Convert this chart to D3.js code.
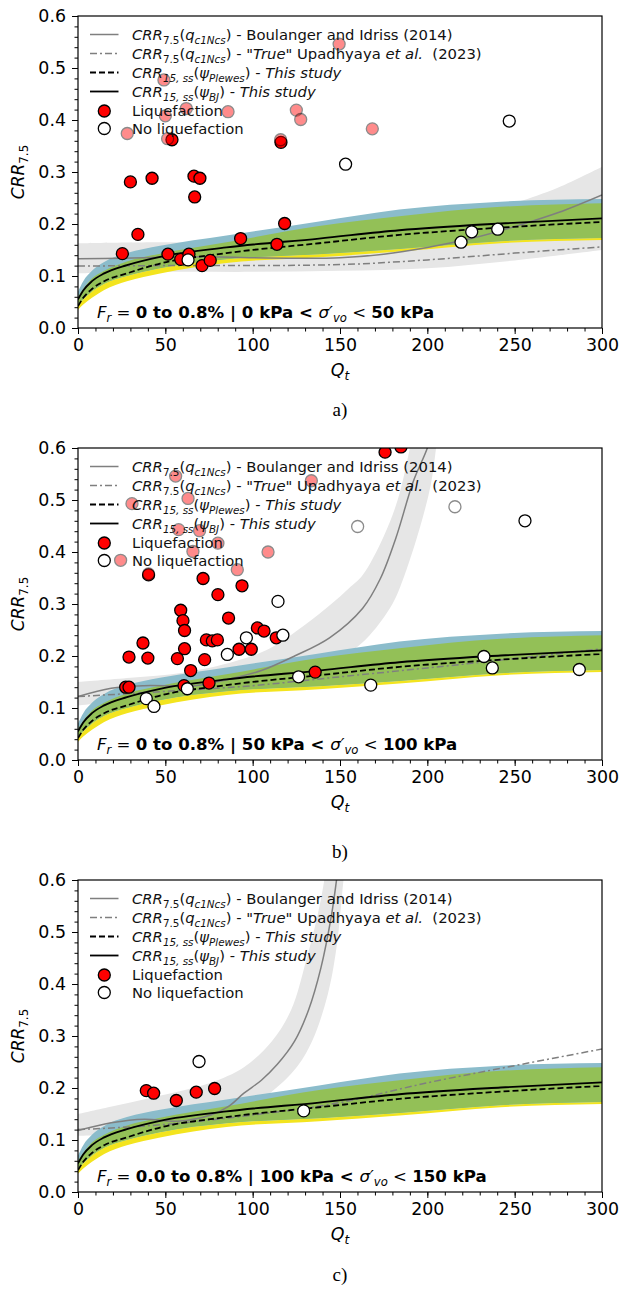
<!DOCTYPE html>
<html lang="en">
<head>
<meta charset="UTF-8">
<title>CRR vs Qt</title>
<script src="https://cdn.jsdelivr.net/npm/d3@7"></script>
<style>
  body { margin: 0; background: #fff; }
  text { font-family: "DejaVu Sans", sans-serif; white-space: pre; }
</style>
</head>
<body>
<script>
// ---- axes ----
const qTicks = [0, 50, 100, 150, 200, 250, 300]
const crrTicks = [0, 0.1, 0.2, 0.3, 0.4, 0.5, 0.6]

// ---- curves of this study (same in every panel) ----
const qGrid       = [0, 3, 8, 15, 28, 47, 85, 138, 184, 242, 300]
const crrBJ       = [0.055, 0.072, 0.09, 0.105, 0.121, 0.137, 0.155, 0.172, 0.188, 0.201, 0.211]
const crrPlewes   = [0.042, 0.058, 0.075, 0.09, 0.105, 0.124, 0.144, 0.163, 0.179, 0.193, 0.204]
const blueUpper   = [0.07, 0.09, 0.11, 0.127, 0.144, 0.158, 0.178, 0.205, 0.228, 0.243, 0.248]
const greenUpper  = [0.06, 0.075, 0.095, 0.11, 0.128, 0.143, 0.165, 0.196, 0.215, 0.233, 0.24]
const greenLower  = [0.045, 0.055, 0.07, 0.085, 0.1, 0.115, 0.132, 0.142, 0.152, 0.167, 0.173]
const yellowLower = [0.035, 0.045, 0.058, 0.073, 0.09, 0.105, 0.125, 0.136, 0.147, 0.163, 0.169]

// ---- panel a) 0 - 50 kPa ----
const biA = [[0, 0.133], [25, 0.134], [50, 0.136], [75, 0.137], [100, 0.135], [125, 0.134], [150, 0.135],
  [175, 0.142], [200, 0.155], [225, 0.172], [250, 0.195], [275, 0.222], [300, 0.256]]
const trueA = [[0, 0.119], [50, 0.12], [100, 0.12], [150, 0.122], [200, 0.131], [250, 0.144], [300, 0.156]]
const bandUpA = [[0, 0.163], [50, 0.165], [100, 0.163], [150, 0.168], [200, 0.19], [250, 0.24], [275, 0.27], [300, 0.31]]
const bandLoA = [[0, 0.105], [50, 0.108], [100, 0.108], [150, 0.11], [200, 0.115], [250, 0.13], [300, 0.15]]
const liqA = [[25.4, 0.143], [30, 0.281], [42.4, 0.288], [34.3, 0.18], [66.4, 0.292], [69.8, 0.288], [66.8, 0.252],
  [51.5, 0.142], [58.8, 0.132], [63.5, 0.142], [71, 0.12], [75.7, 0.13], [93.1, 0.172], [113.9, 0.161],
  [118.3, 0.201], [53.8, 0.362], [116.2, 0.357]]
const nonLiqA = [[63, 0.131], [153.2, 0.315], [246.9, 0.398], [219.3, 0.165], [225.4, 0.185], [240.3, 0.19]]
const fadedLiqA = [[28.2, 0.374], [49.2, 0.477], [50, 0.408], [62, 0.422], [85.9, 0.416], [51.3, 0.364],
  [116, 0.362], [125, 0.419], [127.5, 0.401], [149.5, 0.546], [168.5, 0.383]]
const fadedNonLiqA = []

// ---- panel b) 50 - 100 kPa ----
const biB = [[0, 0.122], [19, 0.138], [38, 0.143], [67, 0.143], [86, 0.155], [105, 0.172], [124, 0.2], [144, 0.235],
  [163, 0.292], [173, 0.348], [182, 0.427], [192, 0.536], [200, 0.6], [205, 0.66]]
const trueB = [[0, 0.122], [50, 0.132], [100, 0.143], [150, 0.16], [200, 0.177], [250, 0.195], [300, 0.214]]
const bandUpB = [[0, 0.15], [30, 0.158], [60, 0.168], [90, 0.19], [110, 0.215], [130, 0.26], [145, 0.3], [155, 0.33],
  [163, 0.356], [175, 0.43], [183, 0.5], [190, 0.6], [193, 0.66]]
const bandLoB = [[0, 0.105], [40, 0.118], [80, 0.128], [110, 0.14], [140, 0.175], [155, 0.205], [167, 0.24],
  [180, 0.3], [187, 0.356], [196, 0.45], [202, 0.53], [205, 0.6], [207, 0.66]]
const liqB = [[27.3, 0.14], [29.2, 0.14], [29.2, 0.198], [37.2, 0.225], [40, 0.196], [40.4, 0.356], [56.9, 0.195],
  [58.8, 0.288], [60.1, 0.268], [61, 0.249], [61, 0.214], [60.7, 0.143], [64.5, 0.172], [71.6, 0.349], [72.5, 0.193],
  [75, 0.148], [73.5, 0.231], [76.9, 0.229], [79.8, 0.231], [80.1, 0.318], [86.2, 0.273], [93.9, 0.335],
  [92.2, 0.213], [99.2, 0.213], [102.7, 0.254], [106.5, 0.248], [113.5, 0.235], [135.8, 0.169],
  [175.8, 0.592], [184.9, 0.602]]
const nonLiqB = [[39.1, 0.118], [43.5, 0.103], [62.6, 0.137], [85.5, 0.203], [96.4, 0.235], [114.5, 0.305],
  [117.3, 0.24], [126.3, 0.16], [167.6, 0.144], [232.4, 0.199], [237.2, 0.177], [287, 0.174], [255.9, 0.46]]
const fadedLiqB = [[55.9, 0.546], [30.9, 0.493], [63, 0.503], [57.6, 0.443], [69.6, 0.441], [80.1, 0.417],
  [65.8, 0.401], [108.8, 0.4], [24.4, 0.384], [40.4, 0.358], [91.2, 0.366], [133.6, 0.537]]
const fadedNonLiqB = [[160.1, 0.449], [215.8, 0.487]]

// ---- panel c) 100 - 150 kPa ----
const biC = [[0, 0.118], [19, 0.133], [38, 0.14], [57, 0.136], [76, 0.148], [86, 0.164], [95, 0.19], [105, 0.215],
  [114, 0.245], [124, 0.29], [132, 0.35], [139, 0.43], [145, 0.53], [148, 0.6], [150, 0.66]]
const trueC = [[0, 0.12], [50, 0.13], [100, 0.148], [150, 0.172], [200, 0.21], [250, 0.243], [300, 0.275]]
const bandUpC = [[0, 0.15], [20, 0.165], [40, 0.18], [60, 0.195], [76, 0.21], [95, 0.24], [111, 0.29], [122, 0.35],
  [131, 0.45], [137, 0.53], [141, 0.6], [143, 0.66]]
const bandLoC = [[0, 0.108], [30, 0.112], [57, 0.119], [86, 0.138], [105, 0.177], [124, 0.235], [134, 0.29],
  [143, 0.38], [148, 0.47], [152, 0.6], [154, 0.66]]
const liqC = [[39.1, 0.195], [43.3, 0.19], [56.3, 0.176], [67.7, 0.192], [78.2, 0.199]]
const nonLiqC = [[69.3, 0.251], [129.2, 0.156]]
const fadedLiqC = []
const fadedNonLiqC = []

// panel texts
const captions = ['a)', 'b)', 'c)']
const rangeFr = ['0 to 0.8% | ', '0 to 0.8% | ', '0.0 to 0.8% | ']
const stressLow = ['0 kPa < ', '50 kPa < ', '100 kPa < ']
const stressHigh = ['50 kPa', '100 kPa', '150 kPa']

// ---- layout ----
const W = 620, H = 1289
const left = 78, right = 602, plotH = 312
const tops = [16, 448, 880]
const captionY = [416, 858, 1281]

const svg = d3.select('body').append('svg')
  .attr('width', W).attr('height', H)
  .style('background', '#fff')

const x = d3.scaleLinear().domain([0, 300]).range([left, right])

// mathtext-like label made of tspans
function rich(t, parts, size) {
  let shifted = 0
  parts.forEach(p => {
    const s = t.append('tspan').text(p.t)
    const want = p.sub ? size * 0.25 : 0
    if (want !== shifted) { s.attr('dy', want - shifted); shifted = want }
    if (p.sub) s.attr('font-size', size * 0.7)
    if (p.i) s.attr('font-style', 'italic')
    if (p.b) s.attr('font-weight', 'bold')
  })
}

const legendItems = [
  { kind: 'line', dash: null, color: '#7f7f7f', w: 1.5,
    parts: [{ t: 'CRR', i: 1 }, { t: '7.5', sub: 1 }, { t: '(' }, { t: 'q', i: 1 }, { t: 'c1Ncs', sub: 1, i: 1 }, { t: ') - Boulanger and Idriss (2014)' }] },
  { kind: 'line', dash: '7,3,2,3', color: '#7f7f7f', w: 1.5,
    parts: [{ t: 'CRR', i: 1 }, { t: '7.5', sub: 1 }, { t: '(' }, { t: 'q', i: 1 }, { t: 'c1Ncs', sub: 1, i: 1 }, { t: ') - "' }, { t: 'True', i: 1 }, { t: '" Upadhyaya ' }, { t: 'et al.', i: 1 }, { t: '  (2023)' }] },
  { kind: 'line', dash: '6,3', color: '#000', w: 1.8,
    parts: [{ t: 'CRR', i: 1 }, { t: '15, ss', sub: 1, i: 1 }, { t: '(' }, { t: 'ψ', i: 1 }, { t: 'Plewes', sub: 1, i: 1 }, { t: ') - ' }, { t: 'This study', i: 1 }] },
  { kind: 'line', dash: null, color: '#000', w: 1.8,
    parts: [{ t: 'CRR', i: 1 }, { t: '15, ss', sub: 1, i: 1 }, { t: '(' }, { t: 'ψ', i: 1 }, { t: 'BJ', sub: 1, i: 1 }, { t: ') - ' }, { t: 'This study', i: 1 }] },
  { kind: 'dot', fill: '#f00', parts: [{ t: 'Liquefaction' }] },
  { kind: 'dot', fill: '#fff', parts: [{ t: 'No liquefaction' }] }
]
const legendRows = [18.5, 37.5, 56.5, 75.5, 95, 112.5]

const panels = [
  { bi: biA, tr: trueA, up: bandUpA, lo: bandLoA, liq: liqA, non: nonLiqA, fl: fadedLiqA, fn: fadedNonLiqA },
  { bi: biB, tr: trueB, up: bandUpB, lo: bandLoB, liq: liqB, non: nonLiqB, fl: fadedLiqB, fn: fadedNonLiqB },
  { bi: biC, tr: trueC, up: bandUpC, lo: bandLoC, liq: liqC, non: nonLiqC, fl: fadedLiqC, fn: fadedNonLiqC }
]

panels.forEach((p, k) => {
  const T = tops[k]
  const y = d3.scaleLinear().domain([0, 0.6]).range([T + plotH, T])
  const g = svg.append('g')

  const clipId = 'clip' + k
  svg.append('clipPath').attr('id', clipId)
    .append('rect').attr('x', left).attr('y', T).attr('width', right - left).attr('height', plotH)
  const plot = g.append('g').attr('clip-path', `url(#${clipId})`)

  // grey band round Boulanger & Idriss
  const bandLine = d3.line().x(d => x(d[0])).y(d => y(d[1])).curve(d3.curveCatmullRom)
  const dUp = bandLine(p.up)
  const dLo = bandLine(p.lo.slice().reverse())
  plot.append('path')
    .attr('d', dUp + 'L' + dLo.slice(1) + 'Z')
    .attr('fill', '#e6e6e6')

  // bands of this study
  const band = (lo, hi) => d3.area()
    .x((d, i) => x(qGrid[i])).y0((d, i) => y(lo[i])).y1((d, i) => y(hi[i]))
    .curve(d3.curveMonotoneX)
  plot.append('path').datum(qGrid).attr('d', band(greenLower, blueUpper)).attr('fill', '#8bbccb')
  plot.append('path').datum(qGrid).attr('d', band(yellowLower, greenLower)).attr('fill', '#f3e41e')
  plot.append('path').datum(qGrid).attr('d', band(greenLower, greenUpper)).attr('fill', '#93c057')

  const curve = d3.line().x(d => x(d[0])).y(d => y(d[1])).curve(d3.curveMonotoneX)
  const smooth = d3.line().x(d => x(d[0])).y(d => y(d[1])).curve(d3.curveCatmullRom.alpha(0.5))
  plot.append('path').datum(p.bi).attr('d', smooth)
    .attr('fill', 'none').attr('stroke', '#7f7f7f').attr('stroke-width', 1.5)
  plot.append('path').datum(p.tr).attr('d', curve)
    .attr('fill', 'none').attr('stroke', '#7f7f7f').attr('stroke-width', 1.5)
    .attr('stroke-dasharray', '7,3,2,3')

  const grid = d => qGrid.map((q, i) => [q, d[i]])
  plot.append('path').datum(grid(crrPlewes)).attr('d', curve)
    .attr('fill', 'none').attr('stroke', '#000').attr('stroke-width', 1.8).attr('stroke-dasharray', '6,3')
  plot.append('path').datum(grid(crrBJ)).attr('d', curve)
    .attr('fill', 'none').attr('stroke', '#000').attr('stroke-width', 1.8)

  // points
  const dots = (data, fill, op) => plot.append('g').selectAll('circle').data(data).join('circle')
    .attr('cx', d => x(d[0])).attr('cy', d => y(d[1])).attr('r', 6)
    .attr('fill', fill).attr('stroke', '#000').attr('stroke-width', 1.3).attr('opacity', op)
  dots(p.liq, '#f00', 1)
  dots(p.non, '#fff', 1)
  dots(p.fl, '#f00', 0.45)
  dots(p.fn, '#fff', 0.45)

  // axes
  const yAxis = d3.axisLeft(y).tickValues(crrTicks).tickFormat(d3.format('.1f')).tickSize(6).tickPadding(6)
  const yMinor = d3.axisLeft(y).tickValues(d3.range(0, 61, 2).map(v => v / 100)).tickFormat('').tickSize(3.5)
  const xAxis = d3.axisBottom(x).tickValues(qTicks).tickSize(6).tickPadding(5)
  const xMinor = d3.axisBottom(x).tickValues(d3.range(0, 301, 10)).tickFormat('').tickSize(3.5)

  const ay = g.append('g').attr('transform', `translate(${left},0)`).call(yAxis)
  g.append('g').attr('transform', `translate(${left},0)`).call(yMinor)
  const ax = g.append('g').attr('transform', `translate(0,${T + plotH})`).call(xAxis)
  g.append('g').attr('transform', `translate(0,${T + plotH})`).call(xMinor)
  g.selectAll('.domain').remove()
  g.selectAll('.tick line').attr('stroke', '#000').attr('stroke-width', 1)
  ay.selectAll('.tick text').attr('font-size', 17.4).attr('fill', '#000').attr('font-family', 'DejaVu Sans')
  ax.selectAll('.tick text').attr('font-size', 17.4).attr('fill', '#000').attr('font-family', 'DejaVu Sans')

  g.append('rect').attr('x', left).attr('y', T).attr('width', right - left).attr('height', plotH)
    .attr('fill', 'none').attr('stroke', '#000').attr('stroke-width', 1.2)

  // axis titles
  const yl = g.append('text').attr('transform', `translate(24,${T + plotH / 2}) rotate(-90)`)
    .attr('text-anchor', 'middle').attr('font-size', 17)
  rich(yl, [{ t: 'CRR', i: 1 }, { t: '7.5', sub: 1 }], 17)
  const xl = g.append('text').attr('x', (left + right) / 2).attr('y', T + plotH + 48)
    .attr('text-anchor', 'middle').attr('font-size', 17.4)
  rich(xl, [{ t: 'Q', i: 1 }, { t: 't', sub: 1, i: 1 }], 17.4)

  // annotation
  const an = g.append('text').attr('x', 97).attr('y', T + 302).attr('font-size', 16.6)
  rich(an, [{ t: 'F', i: 1 }, { t: 'r', sub: 1, i: 1 }, { t: ' = ' }, { t: rangeFr[k] + stressLow[k], b: 1 },
    { t: 'σ′', i: 1 }, { t: 'vo', sub: 1, i: 1 }, { t: ' < ' }, { t: stressHigh[k], b: 1 }], 16.6)

  // legend
  legendItems.forEach((it, j) => {
    const cy = T + legendRows[j]
    if (it.kind === 'line') {
      g.append('line').attr('x1', 90).attr('x2', 118.5).attr('y1', cy).attr('y2', cy)
        .attr('stroke', it.color).attr('stroke-width', it.w).attr('stroke-dasharray', it.dash)
    } else {
      g.append('circle').attr('cx', 104.3).attr('cy', cy).attr('r', 6)
        .attr('fill', it.fill).attr('stroke', '#000').attr('stroke-width', 1.3)
    }
    const t = g.append('text').attr('x', 132).attr('y', cy + 5.3).attr('font-size', 14.8).attr('fill', '#111')
    rich(t, it.parts, 14.8)
  })

  // caption
  svg.append('text').attr('x', (left + right) / 2).attr('y', captionY[k])
    .attr('text-anchor', 'middle').attr('font-size', 19)
    .style('font-family', '"Liberation Serif", serif')
    .text(captions[k])
})
</script>
</body>
</html>
